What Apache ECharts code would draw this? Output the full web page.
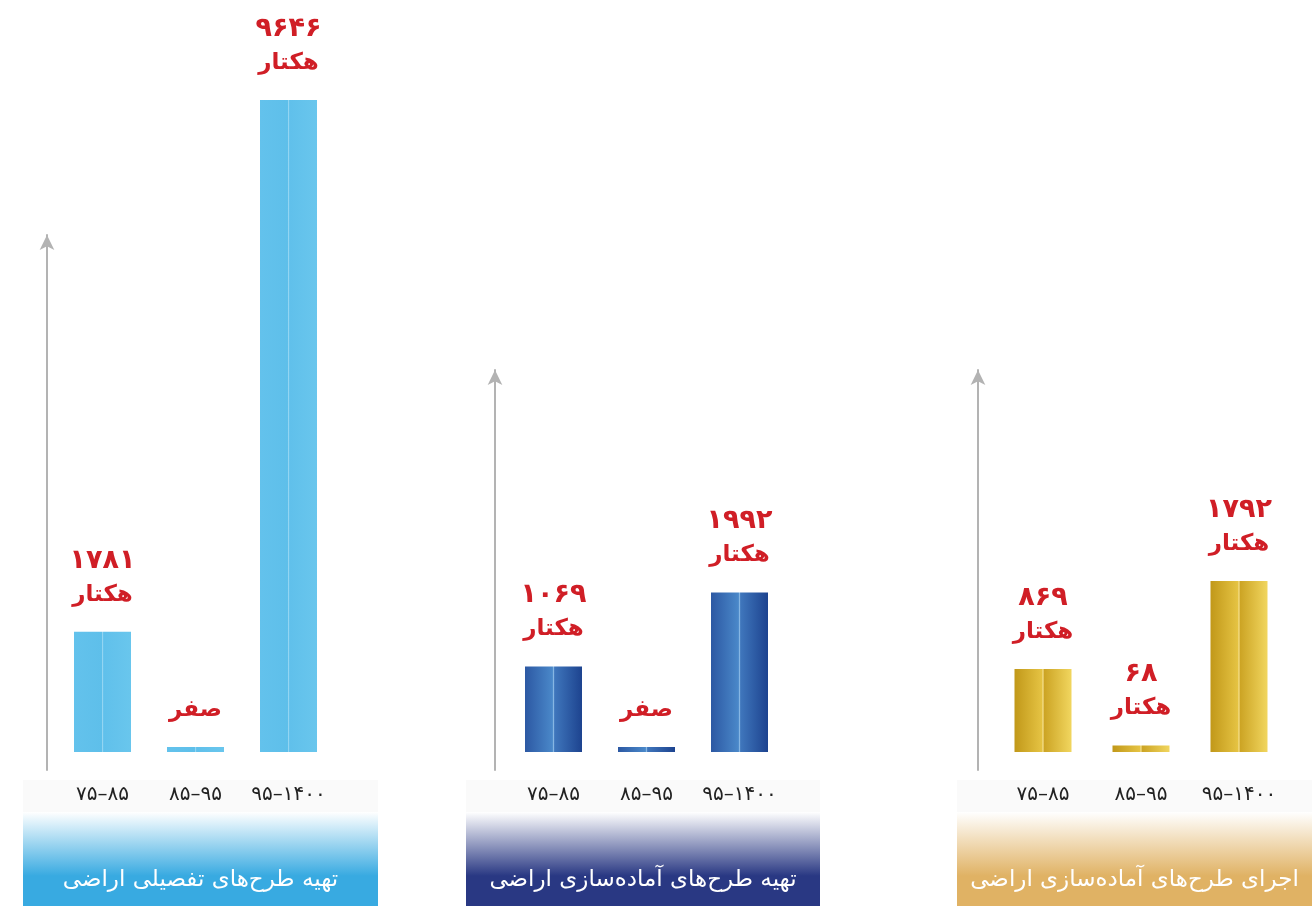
<!DOCTYPE html>
<html>
<head>
<meta charset="utf-8">
<script src="https://cdn.jsdelivr.net/npm/echarts@6/dist/echarts.min.js"></script>
<style>
  html, body { margin: 0; padding: 0; background: #fff; }
  #main { width: 1316px; height: 906px; }
</style>
</head>
<body>
<div id="main"></div>
<script>
// دسته‌ها و مقادیر (هکتار)
var categories = ['۷۵–۸۵', '۸۵–۹۵', '۹۵–۱۴۰۰'];
var detailValues = [1781, 0, 9646];   // تهیه طرح‌های تفصیلی اراضی
var prepValues = [1069, 0, 1992];     // تهیه طرح‌های آماده‌سازی اراضی
var execValues = [869, 68, 1792];     // اجرای طرح‌های آماده‌سازی اراضی
var panelTitles = ['تهیه طرح‌های تفصیلی اراضی', 'تهیه طرح‌های آماده‌سازی اراضی', 'اجرای طرح‌های آماده‌سازی اراضی'];
var unitLabel = 'هکتار';
var zeroLabel = 'صفر';

function faNum(n) {
    return String(n).replace(/\d/g, function (d) { return '۰۱۲۳۴۵۶۷۸۹'[d]; });
}

var G = echarts.graphic.LinearGradient;
var font = 'DejaVu Sans';

// layout of each panel
var panels = [
    { values: detailValues, left: 56, width: 279, axisX: 47, top: 235, min: -266, max: 7649,
      bar: [['#63c2ec', 0], ['#5ebfea', 0.49], ['#93d5f2', 0.5], ['#60c0eb', 0.52], ['#69c6ed', 1]],
      box: { x: 23, w: 355, color: '#38aae1' } },
    { values: prepValues, left: 507, width: 279, axisX: 495, top: 370, min: -225, max: 4770,
      bar: [['#2c58a3', 0], ['#4a88c9', 0.48], ['#86b6e3', 0.5], ['#3f76bc', 0.52], ['#1d438f', 1]],
      box: { x: 466, w: 354, color: '#293883' } },
    { values: execValues, left: 994, width: 294, axisX: 978, top: 370, min: -189, max: 4004,
      bar: [['#c19819', 0], ['#e5c343', 0.48], ['#f6e296', 0.5], ['#cca424', 0.52], ['#f1d65f', 1]],
      box: { x: 957, w: 355, color: '#e0b264' } }
];

var grids = [], xAxes = [], yAxes = [], series = [], graphics = [];

panels.forEach(function (p, i) {
    grids.push({ left: p.left, width: p.width, top: p.top, bottom: 136 });
    xAxes.push({
        type: 'category', gridIndex: i, data: categories,
        axisLine: { show: false, onZero: false }, axisTick: { show: false },
        axisLabel: { color: '#222', fontSize: 20, fontFamily: font, margin: 15, interval: 0, hideOverlap: false }
    });
    yAxes.push({
        type: 'value', gridIndex: i, min: p.min, max: p.max, offset: p.left - p.axisX,
        axisLine: { show: true, symbol: ['none', 'arrow'], symbolSize: [11, 15],
                    lineStyle: { color: '#b3b3b3', width: 2 } },
        axisTick: { show: false }, axisLabel: { show: false }, splitLine: { show: false }
    });
    series.push({
        type: 'bar', xAxisIndex: i, yAxisIndex: i, data: p.values,
        barWidth: 57, barMinHeight: 5, clip: false,
        itemStyle: { color: new G(0, 0, 1, 0, p.bar.map(function (s) { return { offset: s[1], color: s[0] }; })) },
        label: {
            show: true, position: 'top', distance: 20,
            formatter: function (d) {
                return d.value === 0 ? '{u|' + zeroLabel + '}' : '{n|' + faNum(d.value) + '}\n{u|' + unitLabel + '}';
            },
            rich: {
                n: { color: '#d01e26', fontSize: 27, fontWeight: 'bold', fontFamily: font, lineHeight: 34 },
                u: { color: '#d01e26', fontSize: 23, fontWeight: 'bold', fontFamily: font, lineHeight: 34 }
            }
        }
    });
    // نوار عنوان پایین
    graphics.push({
        type: 'rect', z: -10, shape: { x: p.box.x, y: 780, width: p.box.w, height: 32 },
        style: { fill: '#fafafa' }
    });
    graphics.push({
        type: 'rect', shape: { x: p.box.x, y: 812, width: p.box.w, height: 94 },
        style: { fill: new G(0, 0, 0, 1, [{ offset: 0, color: '#ffffff' }, { offset: 0.68, color: p.box.color }, { offset: 1, color: p.box.color }]) }
    });
    graphics.push({
        type: 'text', x: p.box.x + p.box.w / 2, y: 880,
        style: { text: panelTitles[i], fill: '#fff', font: '23px "DejaVu Sans"', align: 'center', verticalAlign: 'middle' }
    });
});

var myChart = echarts.init(document.getElementById('main'));
var option = {
    animation: false,
    grid: grids,
    xAxis: xAxes,
    yAxis: yAxes,
    series: series,
    graphic: graphics
};
myChart.setOption(option);
</script>
</body>
</html>
